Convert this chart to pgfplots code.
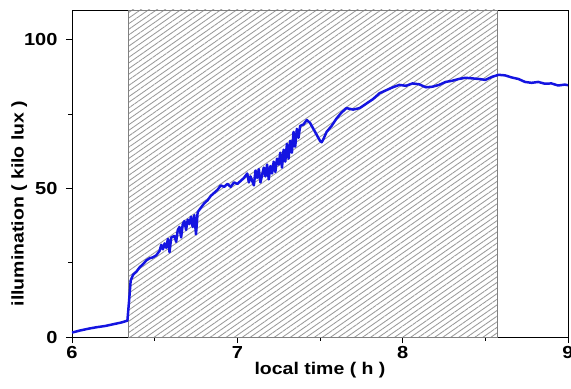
\documentclass[border=0pt]{standalone}
\usepackage{fontspec}
\setmainfont{Liberation Sans}[FakeStretch=1.15]
\usepackage{pgfplots}
\pgfplotsset{compat=1.18}
\usetikzlibrary{patterns.meta}
\definecolor{curve}{RGB}{20,20,225}
\begin{document}
\begin{tikzpicture}
\begin{axis}[
  scale only axis, width=496bp, height=327bp,
  xmin=6, xmax=9, ymin=0, ymax=110,
  xtick={6,7,8,9}, ytick={0,50,100},
  minor xtick={6.5,7.5,8.5}, minor ytick={25,75},
  tick align=outside, major tick length=6bp, minor tick length=3.5bp,
  xtick pos=bottom, ytick pos=left,
  axis line style={line width=0.9pt},
  every tick/.style={black, line width=0.9pt},
  /pgf/number format/assume math mode=true,
  tick label style={font=\fontsize{17.5}{19}\selectfont\bfseries},
  yticklabel style={xshift=-5bp},
  xlabel={local time ( h )}, ylabel={illumination ( kilo lux )},
  label style={font=\fontsize{17}{19}\selectfont\bfseries},
  xlabel style={yshift=3bp}, ylabel style={yshift=-10bp, xshift=-30bp},
  clip=true,
]
\addplot[draw=black!50, line width=0.8pt, pattern={Lines[angle=35, distance=4.6bp, line width=0.85bp]}, pattern color=black!40]
  coordinates {(6.34,0) (6.34,110) (8.57,110) (8.57,0)} -- cycle;
\addplot[curve, line width=2.5pt, line join=round] coordinates {
(6.00,1.5) (6.05,2.2) (6.10,2.8) (6.15,3.3) (6.20,3.7) (6.25,4.3) (6.30,4.9) (6.335,5.5)
(6.345,12) (6.355,19) (6.37,21) (6.39,22) (6.41,23.5) (6.43,24.5) (6.45,25.8) (6.47,26.5)
(6.49,26.8) (6.51,27.5) (6.53,29) (6.54,31) (6.55,29.5) (6.56,31.5) (6.57,30) (6.58,33)
(6.59,28.5) (6.60,33.5) (6.62,34) (6.63,32) (6.64,36) (6.65,37) (6.66,33.5) (6.67,38)
(6.68,39) (6.69,36) (6.70,39.5) (6.71,38) (6.72,40.5) (6.73,37) (6.74,41) (6.75,34.5)
(6.76,42) (6.78,43.5) (6.80,45) (6.82,46) (6.84,47.5) (6.86,48.5) (6.88,49.5) (6.90,51)
(6.92,50.5) (6.94,51.5) (6.96,50.5) (6.98,52) (7.00,51.5) (7.02,52.5) (7.04,53.5) (7.06,55)
(7.07,52) (7.08,54) (7.10,51) (7.11,56) (7.12,53.5) (7.13,56.5) (7.14,52) (7.16,57)
(7.17,54) (7.18,58) (7.19,53) (7.20,57.5) (7.21,55) (7.22,59) (7.23,55.5) (7.24,60)
(7.25,58) (7.26,62) (7.27,57) (7.28,63) (7.29,59) (7.30,65) (7.31,60) (7.32,66)
(7.33,62) (7.34,69) (7.35,64) (7.36,70) (7.37,67) (7.38,71) (7.40,71.5) (7.42,73)
(7.44,72) (7.46,70) (7.48,68) (7.50,66) (7.51,65.5) (7.52,66.5) (7.54,69) (7.57,71)
(7.60,73.5) (7.63,75.5) (7.66,77) (7.70,76.5) (7.74,77) (7.78,78.5) (7.82,80) (7.86,82)
(7.90,83) (7.94,84) (7.98,84.8) (8.02,84.5) (8.06,85.3) (8.10,85) (8.14,84) (8.18,84.2)
(8.22,84.8) (8.26,85.8) (8.30,86.2) (8.34,86.8) (8.38,87.2) (8.42,87) (8.46,86.8) (8.50,86.5)
(8.54,87.5) (8.58,88.2) (8.62,88) (8.66,87.3) (8.70,86.8) (8.74,85.8) (8.78,85.5) (8.82,85.8)
(8.86,85.2) (8.90,85.3) (8.94,84.6) (8.98,84.9) (9.00,84.7)
};
\end{axis}
\pgfresetboundingbox
\path (-72bp,-52bp) rectangle (499bp,337bp);
\end{tikzpicture}
\end{document}
